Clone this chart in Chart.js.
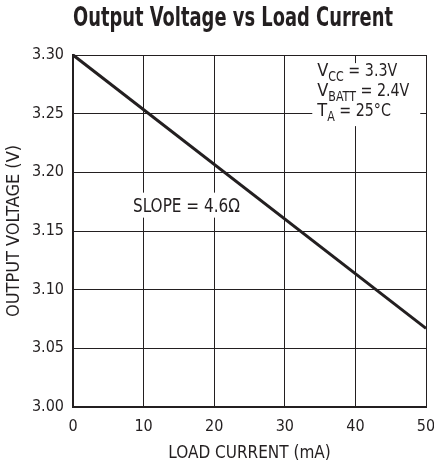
<!DOCTYPE html>
<html>
<head>
<meta charset="utf-8">
<script src="https://cdn.jsdelivr.net/npm/chart.js@4"></script>
<style>
  body { margin: 0; background: #fff; }
  #wrap { width: 434px; height: 468px; position: relative; }
</style>
</head>
<body>
<div id="wrap"><canvas id="voutChart"></canvas></div>
<script>
// data
const loadCurrent = [0, 50];            // mA
const outputVoltage = [3.300, 3.067];   // V
const xTicks = [0, 10, 20, 30, 40, 50];
const yTicks = [3.00, 3.05, 3.10, 3.15, 3.20, 3.25, 3.30];

const ink = '#231f20';
const fam = "'Liberation Sans Narrow', 'Arial Narrow', 'DejaVu Sans Condensed', sans-serif";

// draw text squeezed to a given width (condensed look)
function fitText(c, txt, x, y, w) {
    const m = c.measureText(txt).width;
    const k = Math.min(1, w / m);
    c.save();
    c.translate(x, y);
    c.scale(k, 1);
    c.fillText(txt, 0, 0);
    c.restore();
    return m * k;
}

// title + the two text notes inside the plot
const notesPlugin = {
    id: 'notes',
    afterDraw(chart) {
        const c = chart.ctx;
        const xs = chart.scales.x, ys = chart.scales.y;
        c.save();
        c.fillStyle = ink;

        // title
        c.font = 'bold 26px ' + fam;
        c.textAlign = 'center';
        c.textBaseline = 'middle';
        fitText(c, 'Output Voltage vs Load Current', 233, 19, 320);

        c.textAlign = 'left';
        c.textBaseline = 'alphabetic';

        // slope note
        let sx = xs.getPixelForValue(8.5), sy = ys.getPixelForValue(3.1665);
        c.fillStyle = '#fff';
        c.fillRect(sx - 6, sy - 19, 118, 25);
        c.fillStyle = ink;
        c.font = '19px ' + fam;
        fitText(c, 'SLOPE = 4.6\u03A9', sx, sy, 107);

        // test conditions
        let cx = xs.getPixelForValue(34.6), cy = ys.getPixelForValue(3.282);
        c.fillStyle = '#fff';
        c.fillRect(cx - 5, cy - 13, 108, 63);
        c.fillStyle = ink;
        const rows = [['V', 'CC', ' = 3.3V'], ['V', 'BATT', ' = 2.4V'], ['T', 'A', ' = 25\u00B0C']];
        rows.forEach((r, i) => {
            let x = cx, y = cy + i * 20;
            c.font = '18px ' + fam;
            x += fitText(c, r[0], x, y, 99);
            c.font = '14px ' + fam;
            x += fitText(c, r[1], x, y + 5, c.measureText(r[1]).width * 0.88);
            c.font = '18px ' + fam;
            fitText(c, r[2], x, y, c.measureText(r[2]).width * 0.88);
        });
        c.restore();
    }
};

const ctx = document.getElementById('voutChart').getContext('2d');
const voutChart = new Chart(ctx, {
    type: 'line',
    data: {
        datasets: [{
            data: loadCurrent.map((v, i) => ({ x: v, y: outputVoltage[i] })),
            borderColor: ink,
            borderWidth: 3,
            pointRadius: 0,
            tension: 0,
            clip: false
        }]
    },
    options: {
        responsive: true,
        maintainAspectRatio: false,
        animation: false,
        layout: { padding: { top: 55, right: 8, left: 0, bottom: 0 } },
        plugins: {
            legend: { display: false },
            tooltip: { enabled: false }
        },
        scales: {
            x: {
                type: 'linear',
                min: 0,
                max: 50,
                afterBuildTicks: s => { s.ticks = xTicks.map(v => ({ value: v })); },
                afterFit: s => { s.height = 61; s.paddingLeft = 0; s.paddingRight = 0; },
                grid: { color: ink, lineWidth: 1, drawTicks: false },
                border: { color: ink, width: 2 },
                ticks: { color: ink, font: { family: fam, size: 16 }, padding: 10, maxRotation: 0 },
                title: { display: true, text: 'LOAD CURRENT (mA)', color: ink, font: { family: fam, size: 17 }, padding: { top: 4 } }
            },
            y: {
                min: 3.0,
                max: 3.3,
                afterBuildTicks: s => { s.ticks = yTicks.map(v => ({ value: v })); },
                afterFit: s => { s.width = 73; s.paddingTop = 0; s.paddingBottom = 0; },
                grid: { color: ink, lineWidth: 1, drawTicks: false },
                border: { color: ink, width: 2 },
                ticks: { color: ink, font: { family: fam, size: 16 }, padding: 9, callback: v => v.toFixed(2) },
                title: { display: true, text: 'OUTPUT VOLTAGE (V)', color: ink, font: { family: fam, size: 18 }, padding: { top: 4 } }
            }
        }
    },
    plugins: [notesPlugin]
});
</script>
</body>
</html>
